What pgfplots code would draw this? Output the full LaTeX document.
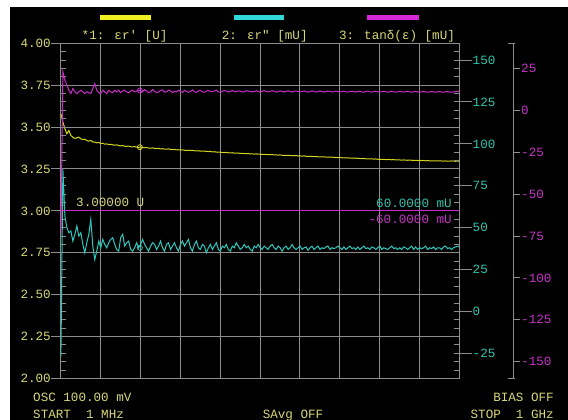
\documentclass[border=0pt]{standalone}
\usepackage{pgfplots}
\pgfplotsset{compat=1.18}
\usepackage{fontspec}
\newfontfamily\mono{Liberation Mono}
\newcommand\tf{\mono\fontsize{12.6pt}{14pt}\selectfont}
\definecolor{gridc}{RGB}{140,140,140}
\definecolor{ytr}{RGB}{212,212,30}
\definecolor{ctr}{RGB}{45,200,190}
\definecolor{mtr}{RGB}{200,45,200}
\definecolor{ylab}{RGB}{215,215,120}
\definecolor{clab}{RGB}{50,195,175}
\definecolor{mlab}{RGB}{200,50,200}
\definecolor{barY}{RGB}{240,240,30}
\definecolor{barC}{RGB}{50,215,215}
\definecolor{barM}{RGB}{215,40,215}
\pgfplotsset{
  base/.style={at={(60.5pt,41.5pt)}, anchor=south west, scale only axis,
    width=399pt, height=335.2pt, xmin=0, xmax=1000},
}
\begin{document}
\begin{tikzpicture}[x=1pt,y=1pt]
\useasboundingbox (0,0) rectangle (568,420);
\fill[white] (0,0) rectangle (568,420);
\fill[black] (10,0) rectangle (568,413);

% main axis: grid, yellow scale and trace
\begin{axis}[base, ymin=2, ymax=4,
  axis line style={gridc, line width=1pt},
  xtick={0,100,200,300,400,500,600,700,800,900,1000}, xticklabels={}, xtick style={draw=none},
  ytick={2,2.25,2.5,2.75,3,3.25,3.5,3.75,4},
  yticklabels={2.00,2.25,2.50,2.75,3.00,3.25,3.50,3.75,4.00},
  ytick pos=left, tick align=outside, major tick length=9pt,
  ytick style={gridc, line width=1pt},
  grid=major, grid style={gridc, line width=1pt},
  yticklabel style={font=\tf, text=ylab, inner sep=0.5pt},
]
\addplot[ytr, line width=1pt, no marks] table[row sep=\\, header=false, y index=0, x expr=\coordindex*4.995+1] {
3.580\\ 3.530\\ 3.490\\ 3.460\\ 3.480\\ 3.450\\ 3.440\\ 3.432\\ 3.436\\ 3.440\\
3.430\\ 3.426\\ 3.428\\ 3.420\\ 3.416\\ 3.420\\ 3.412\\ 3.410\\ 3.406\\ 3.408\\
3.402\\ 3.404\\ 3.398\\ 3.400\\ 3.396\\ 3.397\\ 3.394\\ 3.392\\ 3.394\\ 3.390\\
3.388\\ 3.390\\ 3.386\\ 3.385\\ 3.387\\ 3.383\\ 3.382\\ 3.384\\ 3.380\\ 3.379\\
3.381\\ 3.378\\ 3.377\\ 3.378\\ 3.375\\ 3.374\\ 3.376\\ 3.373\\ 3.372\\ 3.373\\
3.370\\ 3.371\\ 3.369\\ 3.368\\ 3.370\\ 3.367\\ 3.366\\ 3.367\\ 3.364\\ 3.365\\
3.363\\ 3.364\\ 3.362\\ 3.361\\ 3.362\\ 3.360\\ 3.361\\ 3.359\\ 3.358\\ 3.359\\
3.357\\ 3.356\\ 3.357\\ 3.355\\ 3.354\\ 3.355\\ 3.352\\ 3.353\\ 3.351\\ 3.350\\
3.350\\ 3.349\\ 3.348\\ 3.349\\ 3.347\\ 3.346\\ 3.347\\ 3.345\\ 3.344\\ 3.345\\
3.343\\ 3.343\\ 3.342\\ 3.341\\ 3.342\\ 3.340\\ 3.340\\ 3.339\\ 3.340\\ 3.338\\
3.338\\ 3.337\\ 3.338\\ 3.336\\ 3.336\\ 3.335\\ 3.336\\ 3.334\\ 3.334\\ 3.333\\
3.334\\ 3.332\\ 3.332\\ 3.331\\ 3.332\\ 3.330\\ 3.330\\ 3.329\\ 3.330\\ 3.328\\
3.328\\ 3.327\\ 3.328\\ 3.326\\ 3.326\\ 3.325\\ 3.326\\ 3.324\\ 3.324\\ 3.323\\
3.323\\ 3.322\\ 3.323\\ 3.321\\ 3.321\\ 3.320\\ 3.321\\ 3.319\\ 3.319\\ 3.318\\
3.319\\ 3.317\\ 3.317\\ 3.316\\ 3.317\\ 3.315\\ 3.315\\ 3.314\\ 3.315\\ 3.313\\
3.313\\ 3.312\\ 3.313\\ 3.311\\ 3.311\\ 3.310\\ 3.311\\ 3.309\\ 3.310\\ 3.308\\
3.308\\ 3.307\\ 3.308\\ 3.306\\ 3.307\\ 3.306\\ 3.305\\ 3.306\\ 3.304\\ 3.305\\
3.304\\ 3.303\\ 3.304\\ 3.303\\ 3.302\\ 3.303\\ 3.302\\ 3.301\\ 3.302\\ 3.301\\
3.300\\ 3.301\\ 3.300\\ 3.299\\ 3.300\\ 3.299\\ 3.298\\ 3.299\\ 3.298\\ 3.298\\
3.299\\ 3.298\\ 3.297\\ 3.298\\ 3.297\\ 3.297\\ 3.298\\ 3.297\\ 3.296\\ 3.297\\ 3.297\\
};
\addplot[ytr, line width=0.8pt, only marks, mark=o, mark size=2.5pt] coordinates {(199,3.38)};
\end{axis}

% left minor ticks (inside)
\begin{axis}[base, ymin=2, ymax=4, axis x line=none, axis y line*=left,
  axis line style={draw=none}, ytick={2,2.05,...,4.01}, yticklabels={},
  tick align=inside, major tick length=5.5pt, ytick style={gridc, line width=1pt}]
\end{axis}

% cyan minor ticks (inside)
\begin{axis}[base, ymin=-40, ymax=160, axis x line=none, axis y line*=right,
  axis line style={draw=none}, ytick={-40,-35,...,160}, yticklabels={},
  tick align=inside, major tick length=6pt, ytick style={gridc, line width=1pt}]
\end{axis}

% cyan scale and trace
\begin{axis}[base, ymin=-40, ymax=160, axis x line=none, axis y line*=right,
  axis line style={draw=none},
  ytick={-25,0,25,50,75,100,125,150}, yticklabels={-25,0,25,50,75,100,125,150},
  tick align=outside, major tick length=12pt, ytick style={gridc, line width=1pt},
  yticklabel style={font=\tf, text=clab, inner sep=1pt}]
\addplot[ctr, line width=1pt, no marks] table[row sep=\\, header=false, y index=0, x expr=\coordindex*4.995+1] {
-27\\ 85\\ 57\\ 50\\ 47\\ 48\\ 42\\ 46\\ 51\\ 45\\
47\\ 40\\ 35\\ 41\\ 46\\ 55\\ 39\\ 31\\ 36\\ 42\\
38\\ 43\\ 40\\ 38\\ 41\\ 43\\ 44\\ 40\\ 37\\ 36\\
44\\ 46\\ 39\\ 41\\ 42\\ 37\\ 36\\ 38\\ 41\\ 38\\
40\\ 43\\ 40\\ 38\\ 36\\ 39\\ 41\\ 40\\ 37\\ 39\\
42\\ 38\\ 36\\ 40\\ 41\\ 37\\ 39\\ 41\\ 38\\ 36\\
40\\ 42\\ 39\\ 41\\ 43\\ 38\\ 36\\ 40\\ 42\\ 38\\
37\\ 40\\ 39\\ 35\\ 38\\ 40\\ 37\\ 39\\ 41\\ 37\\
36\\ 39\\ 38\\ 40\\ 37\\ 36\\ 39\\ 38\\ 41\\ 39\\
37\\ 38\\ 40\\ 38\\ 39\\ 37\\ 36\\ 39\\ 38\\ 40\\
38\\ 37\\ 39\\ 38\\ 37\\ 39\\ 40\\ 38\\ 37\\ 39\\
38\\ 36\\ 38\\ 39\\ 37\\ 38\\ 40\\ 38\\ 37\\ 38\\
39\\ 37\\ 38\\ 38.5\\ 36.5\\ 38\\ 39\\ 37\\ 38\\ 39\\
37\\ 38\\ 37.5\\ 38.5\\ 39\\ 37\\ 38\\ 37.5\\ 38\\ 39\\
38\\ 37\\ 38.5\\ 37\\ 38\\ 39\\ 37.5\\ 38\\ 37\\ 38.5\\
37\\ 38\\ 39\\ 37.5\\ 38\\ 37\\ 38.5\\ 38\\ 37\\ 38\\
39\\ 37\\ 38\\ 37.5\\ 37\\ 38\\ 39\\ 37.5\\ 38\\ 37\\
38\\ 37\\ 38.5\\ 38\\ 37\\ 38\\ 39\\ 37\\ 38.5\\ 37\\
38\\ 37.5\\ 38\\ 39\\ 37\\ 38\\ 37.5\\ 38.5\\ 37\\ 38\\
38\\ 37\\ 38.5\\ 39\\ 37.5\\ 38\\ 37\\ 38\\ 38.5\\ 39\\ 38.5\\
};
\addplot[ctr, line width=0.8pt, only marks, mark=o, mark size=2.5pt] coordinates {(199,38)};
\end{axis}

% magenta scale (outer axis)
\begin{axis}[at={(60.5pt,41.5pt)}, anchor=south west, scale only axis,
  width=452.5pt, height=335.2pt, xmin=0, xmax=1, ymin=-160, ymax=40,
  axis x line=none, axis y line*=right, axis line style={gridc, line width=1pt, -},
  ytick={-150,-125,-100,-75,-50,-25,0,25}, yticklabels={-150,-125,-100,-75,-50,-25,0,25},
  tick align=outside, major tick length=7pt, ytick style={gridc, line width=1pt},
  yticklabel style={font=\tf, text=mlab, inner sep=1pt}, clip=false]
\draw[gridc, line width=1pt] ([xshift=-5pt]rel axis cs:1,0) -- ([xshift=2pt]rel axis cs:1,0);
\draw[gridc, line width=1pt] ([xshift=-5pt]rel axis cs:1,1) -- ([xshift=2pt]rel axis cs:1,1);
\end{axis}

% magenta trace and reference line
\begin{axis}[base, ymin=-160, ymax=40, hide axis]
\addplot[mtr, line width=1pt, no marks] coordinates {(0,-60) (1000,-60)};
\addplot[mtr, line width=1pt, no marks] table[row sep=\\, header=false, y index=0, x expr=\coordindex*4.995+1] {
-74\\ 23\\ 18\\ 15\\ 12\\ 10\\ 13\\ 11\\ 10\\ 11\\
12\\ 11\\ 10\\ 11\\ 10.5\\ 10\\ 13\\ 16\\ 12\\ 10.5\\
10\\ 12\\ 11\\ 10\\ 12\\ 11\\ 10.5\\ 12\\ 11\\ 12\\
10.5\\ 11.5\\ 12\\ 11\\ 10.5\\ 11.5\\ 12\\ 11\\ 11.5\\ 12\\ 11.5\\
11.0\\ 12.3\\ 11.6\\ 10.5\\ 11.0\\ 12.4\\ 11.3\\ 10.6\\ 10.9\\ 11.9\\
12.2\\ 10.8\\ 11.1\\ 12.1\\ 11.5\\ 10.6\\ 11.4\\ 11.0\\ 12.0\\ 11.2\\
10.7\\ 11.9\\ 11.3\\ 10.8\\ 11.2\\ 12.2\\ 11.1\\ 10.7\\ 11.6\\ 11.9\\
11.0\\ 10.8\\ 11.5\\ 11.8\\ 11.3\\ 11.1\\ 11.6\\ 12.0\\ 11.0\\ 10.8\\
11.3\\ 11.8\\ 11.5\\ 10.9\\ 11.2\\ 11.9\\ 11.3\\ 11.0\\ 11.6\\ 11.4\\
10.9\\ 11.1\\ 11.7\\ 11.6\\ 11.0\\ 11.2\\ 11.1\\ 11.7\\ 11.3\\ 10.9\\
11.4\\ 11.8\\ 11.2\\ 11.0\\ 11.3\\ 11.7\\ 11.4\\ 10.9\\ 11.1\\ 11.6\\
11.3\\ 11.0\\ 11.3\\ 11.7\\ 11.2\\ 10.9\\ 11.4\\ 11.5\\ 11.2\\ 11.0\\
11.3\\ 11.6\\ 11.1\\ 10.9\\ 11.2\\ 11.6\\ 11.3\\ 11.0\\ 11.1\\ 11.6\\
11.2\\ 10.9\\ 11.2\\ 11.5\\ 11.3\\ 11.0\\ 11.1\\ 11.5\\ 11.2\\ 10.9\\
11.2\\ 11.5\\ 11.0\\ 10.9\\ 11.3\\ 11.4\\ 11.1\\ 10.9\\ 11.3\\ 11.4\\
11.0\\ 10.8\\ 11.2\\ 11.5\\ 11.1\\ 10.9\\ 11.2\\ 11.4\\ 11.0\\ 10.9\\
11.1\\ 11.4\\ 11.1\\ 10.8\\ 11.2\\ 11.4\\ 11.0\\ 10.8\\ 11.1\\ 11.3\\
11.0\\ 10.9\\ 11.2\\ 11.4\\ 11.0\\ 10.8\\ 11.1\\ 11.3\\ 11.0\\ 10.8\\
11.1\\ 11.3\\ 11.0\\ 10.8\\ 11.0\\ 11.3\\ 11.0\\ 10.8\\ 11.1\\ 11.3\\
10.9\\ 10.8\\ 11.1\\ 11.2\\ 10.9\\ 10.8\\ 11.0\\ 11.2\\ 11.3\\ 11.5\\
};
\addplot[mtr, line width=0.8pt, only marks, mark=o, mark size=2.5pt] coordinates {(199,11.8)};
\end{axis}

% marker readouts
\node[anchor=base west, inner sep=0pt, text=ylab, font=\tf] at (76,213.1) {3.00000 U};
\node[anchor=base east, inner sep=0pt, text=clab, font=\tf] at (452,212.5) {60.0000 mU};
\node[anchor=base east, inner sep=0pt, text=mlab, font=\tf] at (452,196.5) {-60.0000 mU};

% legend
\fill[barY] (100.4,399.5) rectangle (151.4,405);
\fill[barC] (234.4,399.5) rectangle (284.4,405);
\fill[barM] (367,399.5) rectangle (418.5,405);
\node[anchor=base west, inner sep=0pt, text=ylab, font=\tf] at (81.5,380.8) {*1: εr\symbol{"27} [U]};
\node[anchor=base west, inner sep=0pt, text=ylab, font=\tf] at (221.7,380.8) {2: εr\symbol{"22} [mU]};
\node[anchor=base west, inner sep=0pt, text=ylab, font=\tf] at (338.8,380.8) {3: tanδ(ε) [mU]};

% status lines
\node[anchor=base west, inner sep=0pt, text=ylab, font=\tf] at (33,18.5) {OSC 100.00 mV};
\node[anchor=base west, inner sep=0pt, text=ylab, font=\tf] at (33,1.8) {START~~1 MHz};
\node[anchor=base, inner sep=0pt, text=ylab, font=\tf] at (293,1.8) {SAvg OFF};
\node[anchor=base east, inner sep=0pt, text=ylab, font=\tf] at (554,18.5) {BIAS OFF};
\node[anchor=base east, inner sep=0pt, text=ylab, font=\tf] at (554,1.8) {STOP~~1 GHz};
\end{tikzpicture}
\end{document}
